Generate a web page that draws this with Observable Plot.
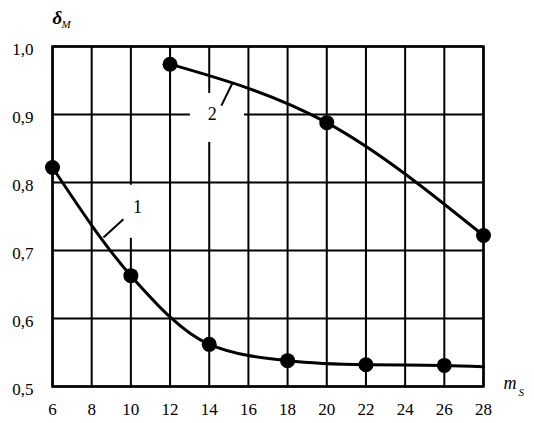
<!DOCTYPE html>
<html>
<head>
<meta charset="utf-8">
<script src="https://cdn.jsdelivr.net/npm/d3@7"></script>
<script src="https://cdn.jsdelivr.net/npm/@observablehq/plot@0.6"></script>
<style>
  body { margin: 0; background: #fff; }
</style>
</head>
<body>
<div id="chart"></div>
<script>
// Curve 1 (markers) and the line's end at m_S = 28
const s1X = [6, 10, 14, 18, 22, 26];
const s1Y = [0.822, 0.663, 0.562, 0.538, 0.532, 0.531];
const s1EndX = 28;
const s1EndY = 0.529;
// Curve 2
const s2X = [12, 20, 28];
const s2Y = [0.974, 0.888, 0.722];

const xTicks = [6, 8, 10, 12, 14, 16, 18, 20, 22, 24, 26, 28];
const yTicks = [0.5, 0.6, 0.7, 0.8, 0.9, 1.0];

// curve labels: text, label position, white box, leader line (data units)
const labelText = ["1", "2"];
const labelX = [10.34, 14.16];
const labelY = [0.763, 0.901];
const boxX1 = [9.1, 13.04], boxX2 = [11.5, 15.8];
const boxY1 = [0.718, 0.859], boxY2 = [0.796, 0.931];
const leadX1 = [9.62, 14.62], leadY1 = [0.746, 0.913];
const leadX2 = [8.6, 15.18], leadY2 = [0.719, 0.946];

const pts1 = s1X.map((x, i) => ({x, y: s1Y[i]}));
const line1 = [...pts1, {x: s1EndX, y: s1EndY}];
const pts2 = s2X.map((x, i) => ({x, y: s2Y[i]}));
const labels = labelText.map((t, i) => ({
  t, x: labelX[i], y: labelY[i],
  bx1: boxX1[i], bx2: boxX2[i], by1: boxY1[i], by2: boxY2[i],
  lx1: leadX1[i], ly1: leadY1[i], lx2: leadX2[i], ly2: leadY2[i]
}));

const serif = "Times New Roman, Liberation Serif, DejaVu Serif, serif";
const fmt = d => d.toFixed(1).replace(".", ",");

const chart = Plot.plot({
  width: 534,
  height: 423,
  marginLeft: 52,
  marginRight: 51,
  marginTop: 46,
  marginBottom: 37,
  style: {fontFamily: serif},
  x: {domain: [6, 28], ticks: xTicks},
  y: {domain: [0.5, 1.0], ticks: yTicks},
  marks: [
    Plot.gridX(xTicks, {stroke: "#000", strokeOpacity: 1, strokeWidth: 2}),
    Plot.gridY(yTicks, {stroke: "#000", strokeOpacity: 1, strokeWidth: 2}),
    Plot.frame({stroke: "#000", strokeWidth: 2.5}),
    Plot.rect(labels, {x1: "bx1", x2: "bx2", y1: "by1", y2: "by2", fill: "#fff"}),
    Plot.axisX(xTicks, {tickSize: 0, tickPadding: 16, label: null, fontSize: 17, fontFamily: serif}),
    Plot.axisY(yTicks, {tickSize: 0, tickPadding: 19, label: null, tickFormat: fmt, dy: 3, fontSize: 17, fontFamily: serif}),
    Plot.line(line1, {x: "x", y: "y", curve: "monotone-x", stroke: "#000", strokeWidth: 3}),
    Plot.line(pts2, {x: "x", y: "y", curve: "monotone-x", stroke: "#000", strokeWidth: 3}),
    Plot.dot(pts1, {x: "x", y: "y", r: 7.5, fill: "#000"}),
    Plot.dot(pts2, {x: "x", y: "y", r: 7.5, fill: "#000"}),
    Plot.link(labels, {x1: "lx1", y1: "ly1", x2: "lx2", y2: "ly2", stroke: "#000", strokeWidth: 2}),
    Plot.text(labels, {x: "x", y: "y", text: "t", fontSize: 18, fill: "#000", fontFamily: serif}),
    Plot.text(["δ"], {frameAnchor: "top-left", textAnchor: "start", lineAnchor: "bottom", dx: 0, dy: -23, fontSize: 19, fontWeight: "bold", fontStyle: "italic", fill: "#000", fontFamily: serif}),
    Plot.text(["М"], {frameAnchor: "top-left", textAnchor: "start", lineAnchor: "bottom", dx: 9, dy: -19, fontSize: 11, fontStyle: "italic", fill: "#000", fontFamily: serif}),
    Plot.text(["m"], {frameAnchor: "bottom-right", textAnchor: "start", lineAnchor: "bottom", dx: 20, dy: 2, fontSize: 18, fontStyle: "italic", fill: "#000", fontFamily: serif}),
    Plot.text(["S"], {frameAnchor: "bottom-right", textAnchor: "start", lineAnchor: "bottom", dx: 35, dy: 9, fontSize: 11, fontStyle: "italic", fill: "#000", fontFamily: serif})
  ]
});
document.getElementById("chart").appendChild(chart);
</script>
</body>
</html>
